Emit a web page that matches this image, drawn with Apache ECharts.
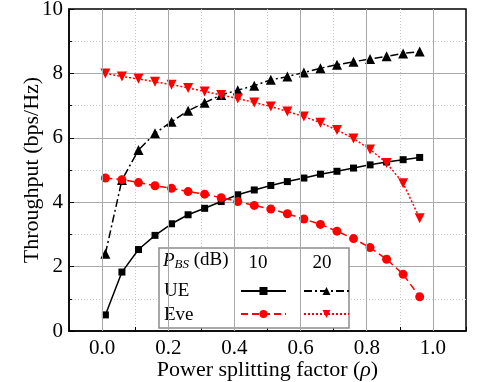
<!DOCTYPE html>
<html>
<head>
<meta charset="utf-8">
<script src="https://cdn.jsdelivr.net/npm/echarts@6/dist/echarts.min.js"></script>
<style>
  html, body { margin: 0; padding: 0; background: #fff; }
  #chart { width: 498px; height: 382px; }
</style>
</head>
<body>
<div id="chart"></div>
<script>
// power splitting factor (rho)
var rho = [0.01, 0.06, 0.11, 0.16, 0.21, 0.26, 0.31, 0.36, 0.41, 0.46,
           0.51, 0.56, 0.61, 0.66, 0.71, 0.76, 0.81, 0.86, 0.91, 0.96];
// throughput (bps/Hz)
var ue10 = [0.50, 1.83, 2.53, 2.97, 3.33, 3.61, 3.81, 4.02, 4.23, 4.38,
            4.52, 4.64, 4.75, 4.87, 4.96, 5.06, 5.16, 5.25, 5.32, 5.39];
var ue20 = [2.40, 4.69, 5.62, 6.14, 6.50, 6.84, 7.09, 7.33, 7.48, 7.62,
            7.80, 7.90, 8.03, 8.16, 8.27, 8.36, 8.45, 8.53, 8.62, 8.68];
var eve10 = [4.75, 4.70, 4.61, 4.51, 4.43, 4.33, 4.25, 4.14, 4.02, 3.90,
             3.79, 3.64, 3.48, 3.31, 3.10, 2.87, 2.59, 2.23, 1.76, 1.06];
var eve20 = [8.00, 7.90, 7.83, 7.74, 7.65, 7.55, 7.44, 7.33, 7.22, 7.10,
             6.97, 6.82, 6.66, 6.47, 6.24, 5.98, 5.64, 5.22, 4.59, 3.50];
// major x ticks (solid grid lines)
var xMajor = [0, 0.2, 0.4, 0.6, 0.8, 1.0];

var FONT = '"Liberation Serif", "DejaVu Serif", serif';

function pairs(ys) {
  return rho.map(function (x, i) { return [x, ys[i]]; });
}

var chart = echarts.init(document.getElementById('chart'));

// legend sample, one per series (a small table like the original)
function legendAt(name, left, top) {
  return {
    data: [name],
    left: left,
    top: top,
    padding: 0,
    itemWidth: 45,
    itemHeight: 10,
    itemGap: 0,
    selectedMode: false,
    formatter: function () { return ''; },
    z: 6
  };
}

var option = {
  animation: false,
  textStyle: { fontFamily: FONT },
  grid: {
    left: 69, right: 32, top: 9, bottom: 51,
    outerBoundsMode: 'none',
    containLabel: false,
    show: true,
    borderColor: '#000',
    borderWidth: 1.5,
    backgroundColor: 'transparent'
  },
  legend: [
    legendAt('UE 10', 240, 286),
    legendAt('UE 20', 303, 286),
    legendAt('Eve 10', 240, 309),
    legendAt('Eve 20', 303, 309)
  ],
  xAxis: {
    type: 'value',
    min: -0.1,
    max: 1.1,
    interval: 0.1,
    name: 'Power splitting factor ({i|\u03c1})',
    nameLocation: 'middle',
    nameGap: 28,
    nameMoveOverlap: false,
    nameTextStyle: {
      fontSize: 22, color: '#000', fontFamily: FONT,
      rich: { i: { fontSize: 22, fontStyle: 'italic', color: '#000', fontFamily: FONT } }
    },
    axisLine: { onZero: false, lineStyle: { color: '#000', width: 1.5 } },
    axisTick: { inside: true, length: 4, lineStyle: { color: '#000' } },
    axisLabel: {
      fontSize: 21,
      color: '#000',
      margin: 7,
      fontFamily: FONT,
      formatter: function (v) {
        var k = Math.round(v * 10);
        if (k < 0 || k > 10 || k % 2 !== 0) return '';
        return (k / 10).toFixed(1);
      }
    },
    splitLine: {
      show: true,
      showMinLine: false,
      showMaxLine: false,
      lineStyle: { color: '#c8c8c8', type: [1, 2], width: 1 }
    }
  },
  yAxis: {
    type: 'value',
    min: 0,
    max: 10,
    interval: 2,
    name: 'Throughput (bps/Hz)',
    nameLocation: 'middle',
    nameGap: 26,
    nameMoveOverlap: false,
    nameTextStyle: { fontSize: 22, color: '#000', fontFamily: FONT },
    axisLine: { show: true, onZero: false, lineStyle: { color: '#000', width: 1.5 } },
    axisTick: { inside: true, length: 5, lineStyle: { color: '#000' } },
    minorTick: { show: true, splitNumber: 2, length: 3, lineStyle: { color: '#000' } },
    axisLabel: { fontSize: 21, color: '#000', margin: 6, fontFamily: FONT },
    splitLine: {
      show: true,
      showMinLine: false,
      showMaxLine: false,
      lineStyle: { color: '#a8a8a8', width: 1 }
    },
    minorSplitLine: {
      show: true,
      lineStyle: { color: '#c8c8c8', type: [1, 2], width: 1 }
    }
  },
  series: [
    {
      name: 'grid',
      type: 'line',
      data: [],
      z: 1,
      markLine: {
        silent: true,
        symbol: ['none', 'none'],
        label: { show: false },
        lineStyle: { color: '#a8a8a8', type: 'solid', width: 1 },
        data: xMajor.map(function (v) { return { xAxis: v }; })
      }
    },
    {
      name: 'UE 10',
      type: 'line',
      data: pairs(ue10),
      symbol: 'rect',
      symbolSize: 7,
      color: '#000',
      lineStyle: { color: '#000', width: 1.5, type: 'solid' },
      itemStyle: { color: '#000' }
    },
    {
      name: 'UE 20',
      type: 'line',
      data: pairs(ue20),
      symbol: 'triangle',
      symbolSize: 10,
      color: '#000',
      lineStyle: { color: '#000', width: 1.5, type: [8, 3, 2, 3] },
      itemStyle: { color: '#000' }
    },
    {
      name: 'Eve 10',
      type: 'line',
      data: pairs(eve10),
      symbol: 'circle',
      symbolSize: 9,
      color: '#ff0000',
      lineStyle: { color: '#ff0000', width: 1.5, type: [7, 4] },
      itemStyle: { color: '#ff0000' }
    },
    {
      name: 'Eve 20',
      type: 'line',
      data: pairs(eve20),
      symbol: 'triangle',
      symbolRotate: 180,
      symbolSize: 10,
      color: '#ff0000',
      lineStyle: { color: '#ff0000', width: 1.5, type: [2, 2] },
      itemStyle: { color: '#ff0000' }
    }
  ],
  graphic: [
    {
      type: 'rect',
      z: 3,
      shape: { x: 159, y: 248, width: 190, height: 80 },
      style: { fill: '#fff', stroke: '#8c8c8c', lineWidth: 1.5 }
    },
    {
      type: 'text',
      z: 4,
      left: 163,
      top: 251,
      style: {
        text: '{i|P}{sub|BS}{n| (dB)}',
        rich: {
          i: { fontSize: 19, fontStyle: 'italic', fontFamily: FONT, fill: '#000' },
          sub: { fontSize: 13, fontStyle: 'italic', fontFamily: FONT, fill: '#000', padding: [9, 0, 0, 0] },
          n: { fontSize: 19, fontFamily: FONT, fill: '#000' }
        }
      }
    },
    {
      type: 'text', z: 4, x: 258, y: 263,
      style: { text: '10', fontSize: 19, fontFamily: FONT, fill: '#000', align: 'center', verticalAlign: 'middle' }
    },
    {
      type: 'text', z: 4, x: 322, y: 263,
      style: { text: '20', fontSize: 19, fontFamily: FONT, fill: '#000', align: 'center', verticalAlign: 'middle' }
    },
    {
      type: 'text', z: 4, x: 164, y: 291,
      style: { text: 'UE', fontSize: 19, fontFamily: FONT, fill: '#000', align: 'left', verticalAlign: 'middle' }
    },
    {
      type: 'text', z: 4, x: 164, y: 315,
      style: { text: 'Eve', fontSize: 19, fontFamily: FONT, fill: '#000', align: 'left', verticalAlign: 'middle' }
    }
  ]
};

chart.setOption(option);
</script>
</body>
</html>
